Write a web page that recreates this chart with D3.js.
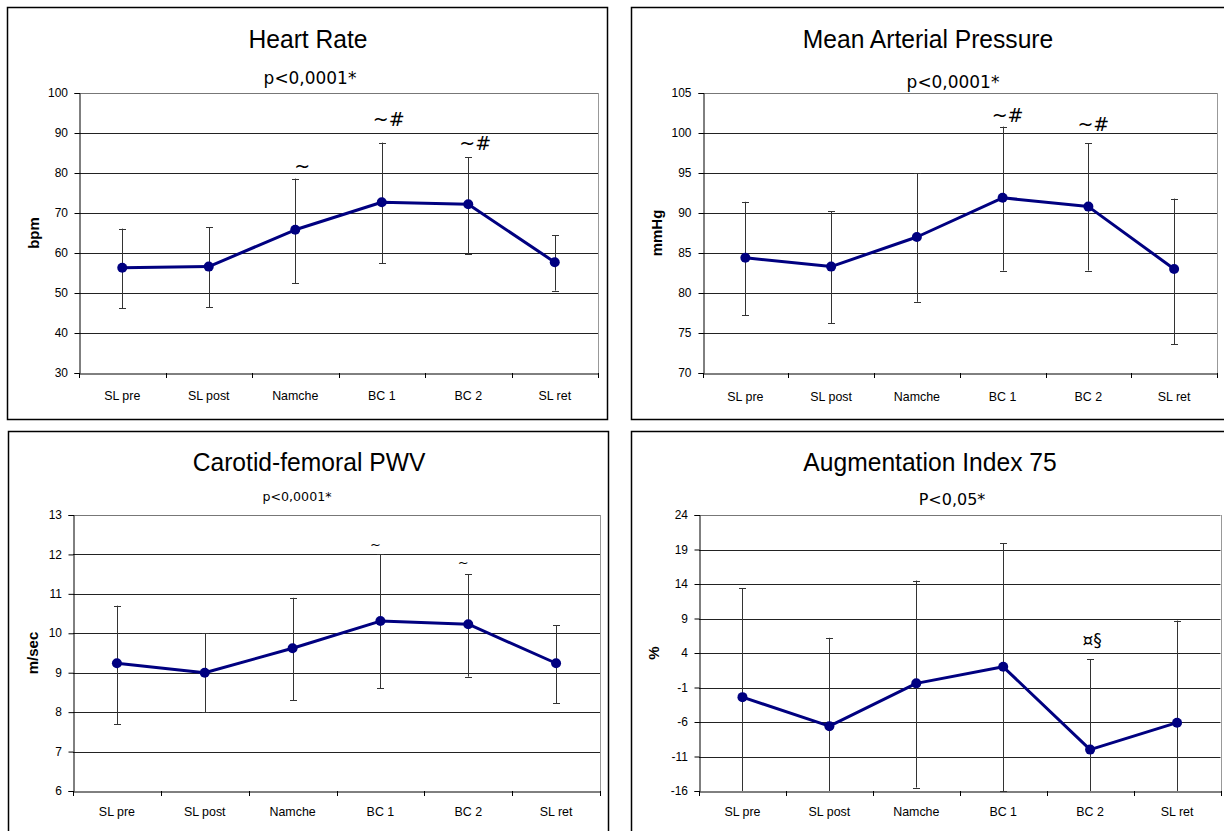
<!DOCTYPE html>
<html>
<head>
<meta charset="utf-8">
<script src="https://cdn.jsdelivr.net/npm/d3@7"></script>
<style>
  html, body { margin: 0; padding: 0; background: #fff; }
  svg { display: block; }
</style>
</head>
<body>
<svg id="chart" width="1224" height="831"></svg>
<script>
// ---------- data ----------
const categories = ["SL pre", "SL post", "Namche", "BC 1", "BC 2", "SL ret"];

const hrMean  = [56.3, 56.6, 65.8, 72.7, 72.2, 57.7];
const hrUpper = [66.1, 66.4, 78.6, 87.6, 83.9, 64.4];
const hrLower = [46.2, 46.4, 52.5, 57.5, 59.8, 50.6];
const hrTicks = [30, 40, 50, 60, 70, 80, 90, 100];
const hrNotes = [
  { cat: "Namche", text: "~", at: 81.8 },
  { cat: "BC 1", text: "~#", at: 93.5 },
  { cat: "BC 2", text: "~#", at: 87.5 }
];

const mapMean  = [84.4, 83.3, 87.0, 91.9, 90.8, 83.0];
const mapUpper = [91.4, 90.25, 95.0, 100.8, 98.7, 91.8];
const mapLower = [77.2, 76.25, 78.9, 82.8, 82.8, 73.6];
const mapTicks = [70, 75, 80, 85, 90, 95, 100, 105];
const mapNotes = [
  { cat: "BC 1", text: "~#", at: 102.3 },
  { cat: "BC 2", text: "~#", at: 101.1 }
];

const pwvMean  = [9.24, 9.0, 9.62, 10.31, 10.23, 9.24];
const pwvUpper = [10.7, 10.0, 10.9, 12.0, 11.5, 10.2];
const pwvLower = [7.7, 8.0, 8.3, 8.6, 8.9, 8.22];
const pwvTicks = [6, 7, 8, 9, 10, 11, 12, 13];
const pwvNotes = [
  { cat: "BC 1", text: "~", at: 12.24 },
  { cat: "BC 2", text: "~", at: 11.79 }
];

const aiMean  = [-2.4, -6.6, -0.4, 2.0, -10.0, -6.1];
const aiUpper = [13.4, 6.2, 14.5, 19.9, 3.1, 8.7];
const aiLower = [-18.2, -19.4, -15.5, -16.0, -23.1, -20.9];
const aiTicks = [-16, -11, -6, -1, 4, 9, 14, 19, 24];
const aiNotes = [
  { cat: "BC 2", text: "¤§", at: 5.86 }
];

// ---------- layout ----------
const panels = [
  { title: "Heart Rate", ptext: "p<0,0001*", ylabel: "bpm",
    mean: hrMean, upper: hrUpper, lower: hrLower, ticks: hrTicks, notes: hrNotes,
    box: { x: 7, y: 7, w: 600, h: 412 },
    plot: { l: 79, r: 598, t: 93, b: 373 },
    titleX: 308, titleY: 48, pX: 310, pY: 84, pSize: 17.5,
    ylabX: 39, catY: 400, noteDx: 7, noteSize: 19 },
  { title: "Mean Arterial Pressure", ptext: "p<0,0001*", ylabel: "mmHg",
    mean: mapMean, upper: mapUpper, lower: mapLower, ticks: mapTicks, notes: mapNotes,
    box: { x: 631, y: 7, w: 620, h: 412 },
    plot: { l: 702.5, r: 1217, t: 93, b: 373 },
    titleX: 928, titleY: 48, pX: 953, pY: 88, pSize: 17.5,
    ylabX: 662, catY: 401, noteDx: 5, noteSize: 19 },
  { title: "Carotid-femoral PWV", ptext: "p<0,0001*", ylabel: "m/sec",
    mean: pwvMean, upper: pwvUpper, lower: pwvLower, ticks: pwvTicks, notes: pwvNotes,
    box: { x: 8, y: 431, w: 600, h: 420 },
    plot: { l: 73, r: 600, t: 515, b: 791 },
    titleX: 309, titleY: 471, pX: 297, pY: 501, pSize: 13,
    ylabX: 38, catY: 816, noteDx: -5, noteSize: 13 },
  { title: "Augmentation Index 75", ptext: "P<0,05*", ylabel: "%",
    mean: aiMean, upper: aiUpper, lower: aiLower, ticks: aiTicks, notes: aiNotes,
    box: { x: 631, y: 431, w: 620, h: 420 },
    plot: { l: 699, r: 1220.5, t: 515, b: 791 },
    titleX: 930, titleY: 471, pX: 952, pY: 505, pSize: 16.5,
    ylabX: 659, catY: 816, noteDx: 2, noteSize: 17 }
];

const svg = d3.select("#chart");
const ARIAL = "'Liberation Sans', Arial, sans-serif";
const PFONT = "'DejaVu Sans', sans-serif";
const SX = 0.92;      // horizontal squeeze of the reference's text
const NAVY = "#000080";

function sText(g, x, y, txt, opts) {
  const t = g.append("text")
    .attr("transform", `translate(${x},${y}) scale(${opts.sx || SX},1)`)
    .attr("text-anchor", opts.anchor || "middle")
    .attr("font-family", opts.family || ARIAL)
    .attr("font-size", opts.size)
    .attr("font-weight", opts.weight || "normal")
    .attr("fill", "#000")
    .text(txt);
  if (opts.baseline) t.attr("dominant-baseline", opts.baseline);
  return t;
}

panels.forEach(p => {
  const g = svg.append("g");
  // panel border
  g.append("rect")
    .attr("x", p.box.x + 0.5).attr("y", p.box.y + 0.5)
    .attr("width", p.box.w).attr("height", p.box.h)
    .attr("fill", "#fff").attr("stroke", "#000").attr("stroke-width", 1.5);

  const x = d3.scaleBand().domain(categories).range([p.plot.l, p.plot.r]).padding(0);
  const ext = d3.extent(p.ticks);
  const y = d3.scaleLinear().domain(ext).range([p.plot.b, p.plot.t]);

  // gridlines
  g.append("g").selectAll("line").data(p.ticks.filter(t => t !== ext[0])).join("line")
    .attr("x1", p.plot.l).attr("x2", p.plot.r)
    .attr("y1", d => Math.round(y(d)) + 0.5).attr("y2", d => Math.round(y(d)) + 0.5)
    .attr("stroke", d => d === ext[1] ? "#777" : "#222").attr("stroke-width", 1);
  // plot area right border
  g.append("line")
    .attr("x1", Math.round(p.plot.r) + 0.5).attr("x2", Math.round(p.plot.r) + 0.5)
    .attr("y1", p.plot.t).attr("y2", p.plot.b)
    .attr("stroke", "#999").attr("stroke-width", 1);

  // y axis
  const yAxis = d3.axisLeft(y).tickValues(p.ticks).tickSize(5).tickPadding(3).tickFormat(d3.format("d"));
  const ya = g.append("g").attr("transform", `translate(${Math.round(p.plot.l) + 0.5},0)`).call(yAxis);
  ya.select(".domain").attr("stroke", "#000");
  ya.selectAll(".tick line").attr("stroke", "#000");
  ya.selectAll(".tick text").remove();
  p.ticks.forEach(t => {
    sText(g, p.plot.l - 11, y(t), String(t), { size: 13, anchor: "end", baseline: "central" });
  });

  // x axis
  const xa = g.append("g").attr("transform", `translate(0,${Math.round(p.plot.b) + 0.5})`)
    .call(d3.axisBottom(x).tickSize(0).tickFormat(""));
  xa.select(".domain").attr("stroke", "#000");
  const bounds = categories.map(c => x(c)).concat([x.range()[1]]);
  g.append("g").selectAll("line").data(bounds).join("line")
    .attr("x1", d => Math.round(d) + 0.5).attr("x2", d => Math.round(d) + 0.5)
    .attr("y1", p.plot.b).attr("y2", p.plot.b + 5)
    .attr("stroke", "#000");
  categories.forEach(c => {
    sText(g, x(c) + x.bandwidth() / 2, p.catY, c, { size: 13.5 });
  });

  // titles
  sText(g, p.titleX, p.titleY, p.title, { size: 26.5, sx: 0.93 });
  sText(g, p.pX, p.pY, p.ptext, { size: p.pSize, family: PFONT, sx: 0.97 });
  // y label
  g.append("text")
    .attr("transform", `translate(${p.ylabX},${(p.plot.t + p.plot.b) / 2}) rotate(-90)`)
    .attr("text-anchor", "middle")
    .attr("font-family", ARIAL).attr("font-size", 15).attr("font-weight", "bold")
    .text(p.ylabel);

  const cx = c => x(c) + x.bandwidth() / 2;
  const [lo, hi] = ext;

  // error bars
  const eb = g.append("g");
  categories.forEach((c, i) => {
    const up = p.upper[i], dn = p.lower[i];
    const xc = Math.round(cx(c)) + 0.5;
    eb.append("line")
      .attr("x1", xc).attr("x2", xc)
      .attr("y1", y(Math.min(up, hi))).attr("y2", y(Math.max(dn, lo)))
      .attr("stroke", "#333").attr("stroke-width", 1);
    [up, dn].forEach(v => {
      if (v >= lo && v <= hi) {
        eb.append("line")
          .attr("x1", xc - 3.5).attr("x2", xc + 3.5)
          .attr("y1", Math.round(y(v)) + 0.5).attr("y2", Math.round(y(v)) + 0.5)
          .attr("stroke", "#333").attr("stroke-width", 1);
      }
    });
  });

  // line
  const pts = categories.map((c, i) => [cx(c), y(p.mean[i])]);
  g.append("path")
    .attr("d", d3.line()(pts))
    .attr("fill", "none").attr("stroke", NAVY).attr("stroke-width", 3)
    .attr("stroke-linejoin", "round");
  g.append("g").selectAll("circle").data(pts).join("circle")
    .attr("cx", d => d[0]).attr("cy", d => d[1]).attr("r", 5)
    .attr("fill", NAVY);

  // significance annotations
  p.notes.forEach(n => {
    sText(g, cx(n.cat) + p.noteDx, y(n.at), n.text,
      { size: p.noteSize, family: PFONT, baseline: "central", sx: 1 });
  });
});
</script>
</body>
</html>
